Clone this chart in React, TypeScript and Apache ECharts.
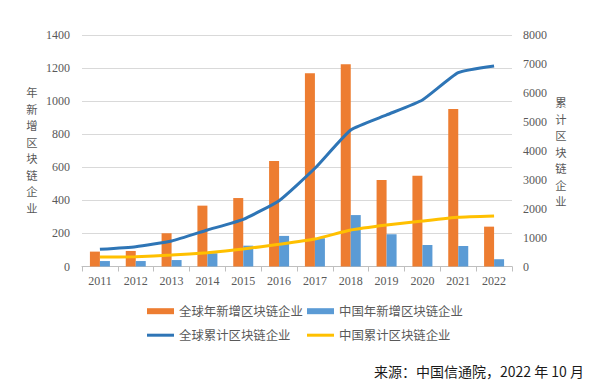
import React, { useEffect, useRef } from "react";
import * as echarts from "echarts";

const years = ["2011","2012","2013","2014","2015","2016","2017","2018","2019","2020","2021","2022"];
const globalNew = [90, 94, 201, 368, 414, 638, 1168, 1223, 523, 549, 952, 241];
const chinaNew = [33, 33, 39, 80, 126, 185, 171, 311, 195, 130, 124, 44];
const globalCum = [594, 685, 881, 1261, 1631, 2274, 3394, 4717, 5236, 5754, 6698, 6929];
const chinaCum = [328, 339, 397, 477, 605, 767, 950, 1261, 1434, 1572, 1700, 1745];
const seriesNames = ["全球年新增区块链企业", "中国年新增区块链企业", "全球累计区块链企业", "中国累计区块链企业"];
const leftName = "年新增区块链企业";
const rightName = "累计区块链企业";
const sourceText = "来源：中国信通院，2022 年 10 月";

const numFont = "'Liberation Serif', 'DejaVu Serif', serif";
const cjkFont = "'Noto Sans CJK SC', sans-serif";
const gray = "#595959";

function verticalText(text: string, cx: number, top: number, step: number) {
  return text.split("").map((ch, i) => ({
    type: "text",
    x: cx,
    y: top + i * step + step / 2,
    style: {
      text: ch,
      fontFamily: cjkFont,
      fontSize: 11.3,
      fill: gray,
      align: "center",
      verticalAlign: "middle",
    },
  }));
}

export default function App() {
  const ref = useRef<HTMLDivElement>(null);
  useEffect(() => {
    const chart = echarts.init(ref.current!, null, { renderer: "svg" });
    const legendBase = {
      orient: "horizontal" as const,
      itemGap: 0,
      textStyle: { fontFamily: cjkFont, fontSize: 12.4, color: gray },
    };
    chart.setOption({
      animation: false,
      backgroundColor: "#ffffff",
      grid: { left: 82, right: 88, top: 35, bottom: 120.5 },
      legend: [
        { ...legendBase, left: 142, top: 300, itemWidth: 27, itemHeight: 6, data: [{ name: seriesNames[0], icon: "rect" }] },
        { ...legendBase, left: 302, top: 300, itemWidth: 27, itemHeight: 6, data: [{ name: seriesNames[1], icon: "rect" }] },
        { ...legendBase, left: 142, top: 324, itemWidth: 27, itemHeight: 3, data: [{ name: seriesNames[2], icon: "rect" }] },
        { ...legendBase, left: 302, top: 324, itemWidth: 27, itemHeight: 3, data: [{ name: seriesNames[3], icon: "rect" }] },
      ],
      xAxis: {
        type: "category",
        data: years,
        boundaryGap: true,
        axisLine: { lineStyle: { color: "#BFBFBF", width: 1 } },
        axisTick: { show: true, length: 5, lineStyle: { color: "#BFBFBF" } },
        axisLabel: { color: gray, fontFamily: numFont, fontSize: 12, margin: 8 },
      },
      yAxis: [
        {
          type: "value",
          min: 0,
          max: 1400,
          interval: 200,
          axisLine: { show: false },
          axisTick: { show: false },
          splitLine: { lineStyle: { color: "#D9D9D9", width: 1 } },
          axisLabel: { color: gray, fontFamily: numFont, fontSize: 12, margin: 12, formatter: (v: number) => String(v) },
        },
        {
          type: "value",
          min: 0,
          max: 8000,
          interval: 1000,
          axisLine: { show: false },
          axisTick: { show: false },
          splitLine: { show: false },
          axisLabel: { color: gray, fontFamily: numFont, fontSize: 12, margin: 11, formatter: (v: number) => String(v) },
        },
      ],
      series: [
        {
          name: seriesNames[0],
          type: "bar",
          data: globalNew,
          barWidth: 10,
          barGap: "0%",
          itemStyle: { color: "#ED7D31" },
        },
        {
          name: seriesNames[1],
          type: "bar",
          data: chinaNew,
          barWidth: 10,
          barGap: "0%",
          itemStyle: { color: "#5B9BD5" },
        },
        {
          name: seriesNames[2],
          type: "line",
          yAxisIndex: 1,
          data: globalCum,
          smooth: 0.15,
          symbol: "none",
          lineStyle: { color: "#2E75B6", width: 3 },
          itemStyle: { color: "#2E75B6" },
        },
        {
          name: seriesNames[3],
          type: "line",
          yAxisIndex: 1,
          data: chinaCum,
          smooth: 0.15,
          symbol: "none",
          lineStyle: { color: "#FFC000", width: 3 },
          itemStyle: { color: "#FFC000" },
        },
      ],
      graphic: [
        ...verticalText(leftName, 32, 84, 16.5),
        ...verticalText(rightName, 561, 94, 16.5),
        {
          type: "text",
          right: 16,
          top: 364,
          style: {
            text: sourceText,
            fontFamily: cjkFont,
            fontSize: 14,
            fill: "#1a1a1a",
          },
        },
      ],
    });
    return () => chart.dispose();
  }, []);
  return (
    <div
      ref={ref}
      style={{ position: "fixed", left: 0, top: 0, width: 600, height: 387 }}
    />
  );
}
